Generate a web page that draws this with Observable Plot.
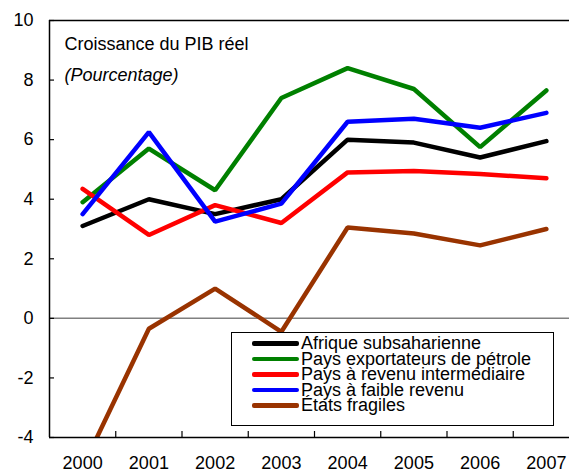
<!DOCTYPE html>
<html>
<head>
<meta charset="utf-8">
<script src="https://cdn.jsdelivr.net/npm/d3@7"></script>
<script src="https://cdn.jsdelivr.net/npm/@observablehq/plot@0.6"></script>
<style>
  html, body { margin: 0; padding: 0; background: white; }
  #wrap { position: relative; width: 569px; height: 473px; font-family: "Liberation Sans", Arial, sans-serif; }
  #legend { position: absolute; left: 231px; top: 332px; width: 321px; height: 92px; border: 1px solid black; background: white; }
  .row { position: absolute; left: 0; height: 15.5px; line-height: 15.5px; font-size: 18px; white-space: nowrap; }
  .sw { position: absolute; left: 20px; width: 47px; height: 4.5px; top: 5px; border-radius: 2px; }
  .lab { position: absolute; left: 69px; top: 0; }
</style>
</head>
<body>
<div id="wrap"></div>
<script>
const years = [2000, 2001, 2002, 2003, 2004, 2005, 2006, 2007];
const seriesNames = ["Afrique subsaharienne", "Pays exportateurs de pétrole", "Pays à revenu intermédiaire", "Pays à faible revenu", "États fragiles"];
const seriesColors = ["#000000", "#008000", "#ff0000", "#0000ff", "#993300"];
const afrique = [3.1, 4.0, 3.5, 4.0, 6.0, 5.9, 5.4, 5.95];
const petrole = [3.9, 5.7, 4.3, 7.4, 8.4, 7.7, 5.75, 7.65];
const intermediaire = [4.35, 2.8, 3.8, 3.2, 4.9, 4.95, 4.85, 4.7];
const faible = [3.5, 6.25, 3.25, 3.85, 6.6, 6.7, 6.4, 6.9];
const fragiles = [-5.0, -0.35, 1.0, -0.45, 3.05, 2.85, 2.45, 3.0];
const yTicks = [-4, -2, 0, 2, 4, 6, 8, 10];
const title = "Croissance du PIB réel";
const subtitle = "(Pourcentage)";

const values = [afrique, petrole, intermediaire, faible, fragiles];
const rows = [];
seriesNames.forEach((s, i) => years.forEach((yr, j) => rows.push({series: s, year: yr, value: values[i][j]})));
const boundaries = years.slice(0, -1).map(y => y + 0.5);

const W = 569, H = 473, mL = 49, mT = 20, mB = 36;
const plotH = H - mT - mB;

const chart = Plot.plot({
  width: W, height: H,
  marginLeft: mL, marginRight: 0, marginTop: mT, marginBottom: mB,
  style: {fontFamily: '"Liberation Sans", Arial, sans-serif', fontSize: "18px", background: "white", color: "black", overflow: "visible"},
  x: {type: "linear", domain: [years[0] - 0.5, years[years.length - 1] + 0.5], range: [mL, 579]},
  y: {domain: [yTicks[0], yTicks[yTicks.length - 1]]},
  color: {domain: seriesNames, range: seriesColors},
  marks: [
    Plot.ruleY([0], {stroke: "#808080", strokeWidth: 1.5}),
    Plot.line(rows, {x: "year", y: "value", z: "series", stroke: "series", strokeWidth: 4.5, clip: true, strokeLinejoin: "miter"}),
    Plot.ruleY([yTicks[yTicks.length - 1]], {stroke: "black", strokeWidth: 1.5}),
    Plot.ruleY([yTicks[0]], {stroke: "black", strokeWidth: 1.5}),
    Plot.ruleX([years[0] - 0.5], {stroke: "black", strokeWidth: 1.5}),
    Plot.tickY(yTicks, {y: d => d, insetRight: W - mL - 5, stroke: "black", strokeWidth: 1.2}),
    Plot.tickX(boundaries, {x: d => d, insetTop: plotH - 6, stroke: "black", strokeWidth: 1.2}),
    Plot.axisY({ticks: yTicks, tickSize: 0, tickPadding: 16, fontSize: 18, label: null, tickFormat: d => String(d)}),
    Plot.axisX({ticks: years, tickSize: 0, tickPadding: 19, fontSize: 18, label: null, tickFormat: d => String(d)}),
    Plot.text([title], {frameAnchor: "top-left", dx: 15, dy: 17, fontSize: 18, fill: "black", lineAnchor: "top"}),
    Plot.text([subtitle], {frameAnchor: "top-left", dx: 15, dy: 48, fontSize: 18, fontStyle: "italic", fill: "black", lineAnchor: "top"})
  ]
});

const wrap = document.getElementById("wrap");
wrap.appendChild(chart);
const legend = document.createElement("div");
legend.id = "legend";
seriesNames.forEach((s, i) => {
  const r = document.createElement("div");
  r.className = "row";
  r.style.top = (3 + i * 15.5) + "px";
  const sw = document.createElement("div");
  sw.className = "sw";
  sw.style.background = seriesColors[i];
  const lab = document.createElement("span");
  lab.className = "lab";
  lab.textContent = s;
  r.appendChild(sw); r.appendChild(lab);
  legend.appendChild(r);
});
wrap.appendChild(legend);
</script>
</body>
</html>
